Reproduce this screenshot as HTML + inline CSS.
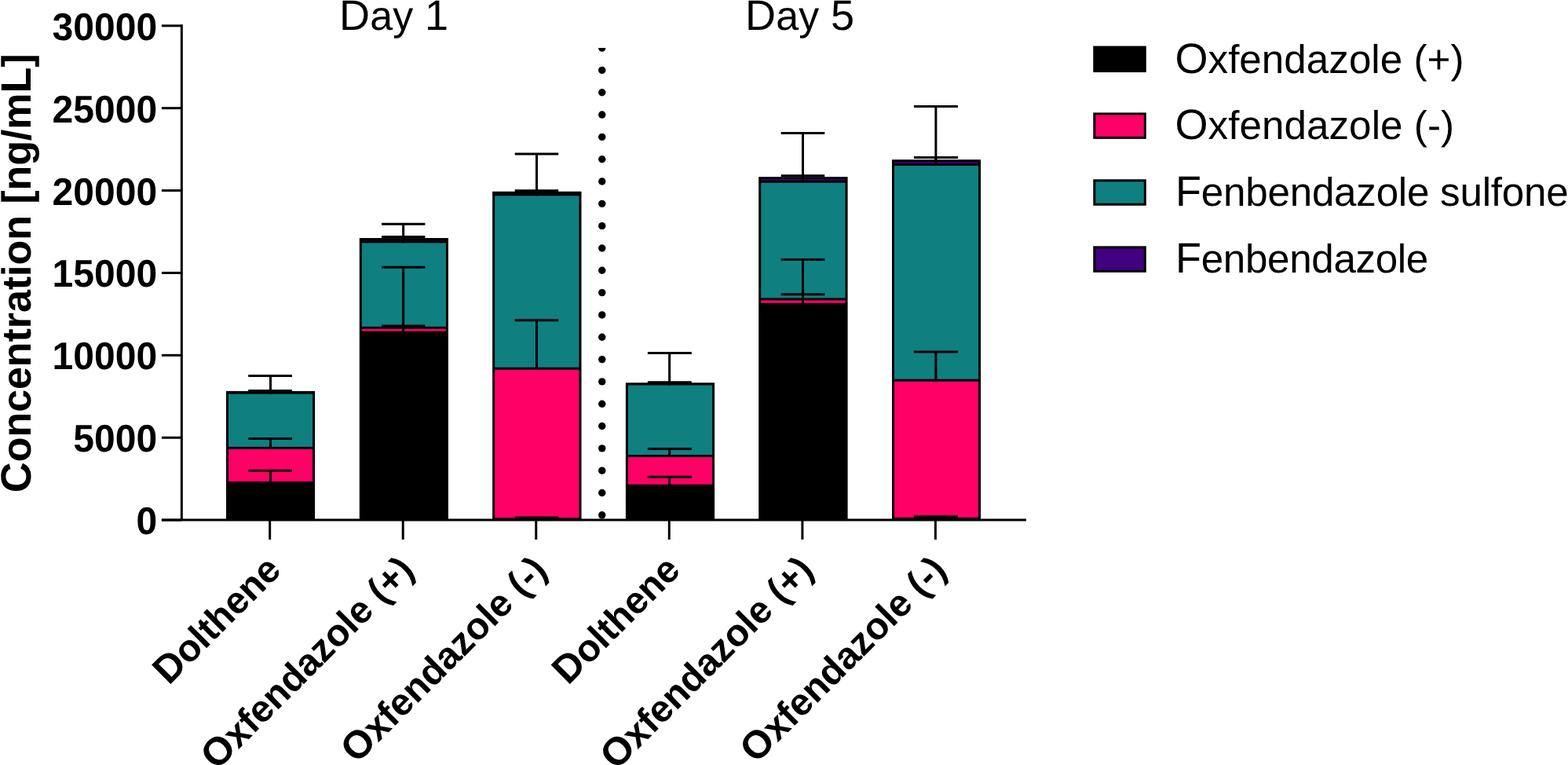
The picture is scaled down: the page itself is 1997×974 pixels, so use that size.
<!DOCTYPE html>
<html lang="en"><head><meta charset="utf-8"><title>Chart</title>
<style>html,body{margin:0;padding:0;background:#fff;overflow:hidden}svg{display:block}</style>
</head><body>
<svg width="1997" height="974" viewBox="0 0 1997 974" style="overflow:hidden" text-rendering="geometricPrecision" font-family="'Liberation Sans', Arial, sans-serif">
<rect width="1997" height="974" fill="#fff"/>
<g stroke="#000" stroke-width="3">
<rect x="288.00" y="497.90" width="113.10" height="164.60" fill="#000" stroke="none"/>
<rect x="291.00" y="571.90" width="107.10" height="41.10" fill="#ff0066" stroke="none"/>
<rect x="291.00" y="501.70" width="107.10" height="67.20" fill="#107f80" stroke="none"/>
<path d="M344.50 616.00V599.30M316.20 599.30H372.00" fill="none"/>
<path d="M344.50 571.90V558.40M316.20 558.40H372.00" fill="none"/>
<path d="M344.50 501.70V478.50M316.20 478.50H372.00" fill="none"/>
<path d="M344.50 500.90V497.50M316.20 497.50H372.00" fill="none"/>
<rect x="457.80" y="303.06" width="113.15" height="359.44" fill="#000" stroke="none"/>
<rect x="460.80" y="418.80" width="107.15" height="2.80" fill="#ff0066" stroke="none"/>
<rect x="460.80" y="309.40" width="107.15" height="106.40" fill="#107f80" stroke="none"/>
<rect x="460.80" y="306.06" width="107.15" height="0.34" fill="#40007f" stroke="none"/>
<path d="M513.65 424.60V415.00M486.00 415.00H541.40" fill="none"/>
<path d="M513.65 418.80V340.20M486.00 340.20H541.40" fill="none"/>
<path d="M513.65 309.40V285.20M486.00 285.20H541.40" fill="none"/>
<path d="M513.65 306.06V301.55M486.00 301.55H541.40" fill="none"/>
<rect x="627.15" y="243.80" width="113.35" height="418.70" fill="#000" stroke="none"/>
<rect x="630.15" y="470.70" width="107.35" height="188.60" fill="#ff0066" stroke="none"/>
<rect x="630.15" y="249.30" width="107.35" height="218.40" fill="#107f80" stroke="none"/>
<path d="M683.50 662.30V658.90M655.70 658.90H711.20" fill="none"/>
<path d="M683.50 470.70V407.70M655.70 407.70H711.20" fill="none"/>
<path d="M683.50 249.30V196.00M655.70 196.00H711.20" fill="none"/>
<path d="M683.50 246.80V242.70M655.70 242.70H711.20" fill="none"/>
<rect x="796.90" y="487.25" width="113.20" height="175.25" fill="#000" stroke="none"/>
<rect x="799.90" y="582.00" width="107.20" height="34.76" fill="#ff0066" stroke="none"/>
<rect x="799.90" y="490.50" width="107.20" height="88.50" fill="#107f80" stroke="none"/>
<path d="M852.65 619.76V607.20M824.90 607.20H880.80" fill="none"/>
<path d="M852.65 582.00V571.50M824.90 571.50H880.80" fill="none"/>
<path d="M852.65 490.50V449.40M824.90 449.40H880.80" fill="none"/>
<path d="M852.65 490.25V486.70M824.90 486.70H880.80" fill="none"/>
<rect x="966.20" y="225.20" width="113.40" height="437.30" fill="#000" stroke="none"/>
<rect x="969.20" y="382.40" width="107.40" height="3.40" fill="#ff0066" stroke="none"/>
<rect x="969.20" y="232.70" width="107.40" height="146.70" fill="#107f80" stroke="none"/>
<rect x="969.20" y="228.20" width="107.40" height="1.50" fill="#40007f" stroke="none"/>
<path d="M1022.50 388.80V374.70M994.70 374.70H1050.30" fill="none"/>
<path d="M1022.50 382.40V330.50M994.70 330.50H1050.30" fill="none"/>
<path d="M1022.50 232.70V169.60M994.70 169.60H1050.30" fill="none"/>
<path d="M1022.50 228.20V223.75M994.70 223.75H1050.30" fill="none"/>
<rect x="1136.00" y="203.20" width="113.10" height="459.30" fill="#000" stroke="none"/>
<rect x="1139.00" y="485.70" width="107.10" height="173.14" fill="#ff0066" stroke="none"/>
<rect x="1139.00" y="211.00" width="107.10" height="271.70" fill="#107f80" stroke="none"/>
<rect x="1139.00" y="206.20" width="107.10" height="1.80" fill="#40007f" stroke="none"/>
<path d="M1191.90 661.84V657.70M1163.90 657.70H1219.90" fill="none"/>
<path d="M1191.90 485.70V448.10M1163.90 448.10H1219.90" fill="none"/>
<path d="M1191.90 211.00V135.50M1163.90 135.50H1219.90" fill="none"/>
<path d="M1191.90 206.20V200.50M1163.90 200.50H1219.90" fill="none"/>
<path d="M231.35 31.30V663.60M205.9 662.1H1307" fill="none"/>
<path d="M205.9 662.10H231.35"/>
<path d="M205.9 557.22H231.35"/>
<path d="M205.9 452.33H231.35"/>
<path d="M205.9 347.45H231.35"/>
<path d="M205.9 242.57H231.35"/>
<path d="M205.9 137.68H231.35"/>
<path d="M205.9 32.80H231.35"/>
<path d="M343.67 662.1V687"/>
<path d="M513.22 662.1V687"/>
<path d="M682.77 662.1V687"/>
<path d="M852.30 662.1V687"/>
<path d="M1021.90 662.1V687"/>
<path d="M1191.40 662.1V687"/>
</g>
<clipPath id="dc"><rect x="755" y="60.9" width="24" height="610"/></clipPath>
<g clip-path="url(#dc)">
<circle cx="766.75" cy="61.10" r="4.7"/>
<circle cx="766.75" cy="89.42" r="4.7"/>
<circle cx="766.75" cy="117.74" r="4.7"/>
<circle cx="766.75" cy="146.06" r="4.7"/>
<circle cx="766.75" cy="174.38" r="4.7"/>
<circle cx="766.75" cy="202.70" r="4.7"/>
<circle cx="766.75" cy="231.02" r="4.7"/>
<circle cx="766.75" cy="259.34" r="4.7"/>
<circle cx="766.75" cy="287.66" r="4.7"/>
<circle cx="766.75" cy="315.98" r="4.7"/>
<circle cx="766.75" cy="344.30" r="4.7"/>
<circle cx="766.75" cy="372.62" r="4.7"/>
<circle cx="766.75" cy="400.94" r="4.7"/>
<circle cx="766.75" cy="429.26" r="4.7"/>
<circle cx="766.75" cy="457.58" r="4.7"/>
<circle cx="766.75" cy="485.90" r="4.7"/>
<circle cx="766.75" cy="514.22" r="4.7"/>
<circle cx="766.75" cy="542.54" r="4.7"/>
<circle cx="766.75" cy="570.86" r="4.7"/>
<circle cx="766.75" cy="599.18" r="4.7"/>
<circle cx="766.75" cy="627.50" r="4.7"/>
<circle cx="766.75" cy="655.82" r="4.7"/>
</g>
<text transform="translate(200.1 680.10) scale(1 1.02)" font-size="48" font-weight="bold" text-anchor="end">0</text>
<text transform="translate(200.1 575.22) scale(1 1.02)" font-size="48" font-weight="bold" text-anchor="end">5000</text>
<text transform="translate(200.1 470.33) scale(1 1.02)" font-size="48" font-weight="bold" text-anchor="end">10000</text>
<text transform="translate(200.1 365.45) scale(1 1.02)" font-size="48" font-weight="bold" text-anchor="end">15000</text>
<text transform="translate(200.1 260.57) scale(1 1.02)" font-size="48" font-weight="bold" text-anchor="end">20000</text>
<text transform="translate(200.1 155.68) scale(1 1.02)" font-size="48" font-weight="bold" text-anchor="end">25000</text>
<text transform="translate(200.1 50.80) scale(1 1.02)" font-size="48" font-weight="bold" text-anchor="end">30000</text>
<text x="501.6" y="38.2" font-size="52" letter-spacing="0.15" text-anchor="middle"><tspan font-size="54.08">D</tspan>ay <tspan font-size="54.08">1</tspan></text>
<text x="1018.6" y="38.2" font-size="52" letter-spacing="0.15" text-anchor="middle"><tspan font-size="54.08">D</tspan>ay <tspan font-size="54.08">5</tspan></text>
<text transform="translate(39.1 347.8) rotate(-90)" font-size="52" font-weight="bold" text-anchor="middle" letter-spacing="-0.07"><tspan font-size="54.08">C</tspan>oncentration [ng/m<tspan font-size="54.08">L</tspan>]</text>
<text transform="translate(359.97 728.3) rotate(-45)" font-size="48" font-weight="bold" letter-spacing="-0.2" text-anchor="end"><tspan font-size="49.92">D</tspan>olthene</text>
<text transform="translate(529.52 728.3) rotate(-45)" font-size="48" font-weight="bold" letter-spacing="-0.12" text-anchor="end"><tspan font-size="49.92">O</tspan>xfendazole (+)</text>
<text transform="translate(699.07 728.3) rotate(-45)" font-size="48" font-weight="bold" letter-spacing="-0.12" text-anchor="end"><tspan font-size="49.92">O</tspan>xfendazole (-)</text>
<text transform="translate(868.60 728.3) rotate(-45)" font-size="48" font-weight="bold" letter-spacing="-0.2" text-anchor="end"><tspan font-size="49.92">D</tspan>olthene</text>
<text transform="translate(1038.20 728.3) rotate(-45)" font-size="48" font-weight="bold" letter-spacing="-0.12" text-anchor="end"><tspan font-size="49.92">O</tspan>xfendazole (+)</text>
<text transform="translate(1207.70 728.3) rotate(-45)" font-size="48" font-weight="bold" letter-spacing="-0.12" text-anchor="end"><tspan font-size="49.92">O</tspan>xfendazole (-)</text>
<rect x="1393.8" y="60.05" width="64.5" height="30.5" fill="#000" stroke="#000" stroke-width="3"/>
<text x="1496.5" y="92.60" font-size="51.2" letter-spacing="0.01"><tspan font-size="54.02">O</tspan>xfendazole (+)</text>
<rect x="1393.8" y="144.90" width="64.5" height="30.5" fill="#ff0066" stroke="#000" stroke-width="3"/>
<text x="1496.5" y="177.45" font-size="51.2" letter-spacing="0.04"><tspan font-size="54.02">O</tspan>xfendazole (-)</text>
<rect x="1393.8" y="229.80" width="64.5" height="30.5" fill="#107f80" stroke="#000" stroke-width="3"/>
<text x="1497.1" y="262.35" font-size="51.2" letter-spacing="-0.26"><tspan font-size="54.02">F</tspan>enbendazole sulfone</text>
<rect x="1393.8" y="314.85" width="64.5" height="30.5" fill="#40007f" stroke="#000" stroke-width="3"/>
<text x="1497.1" y="347.40" font-size="51.2" letter-spacing="-0.36"><tspan font-size="54.02">F</tspan>enbendazole</text>
</svg>
</body></html>
